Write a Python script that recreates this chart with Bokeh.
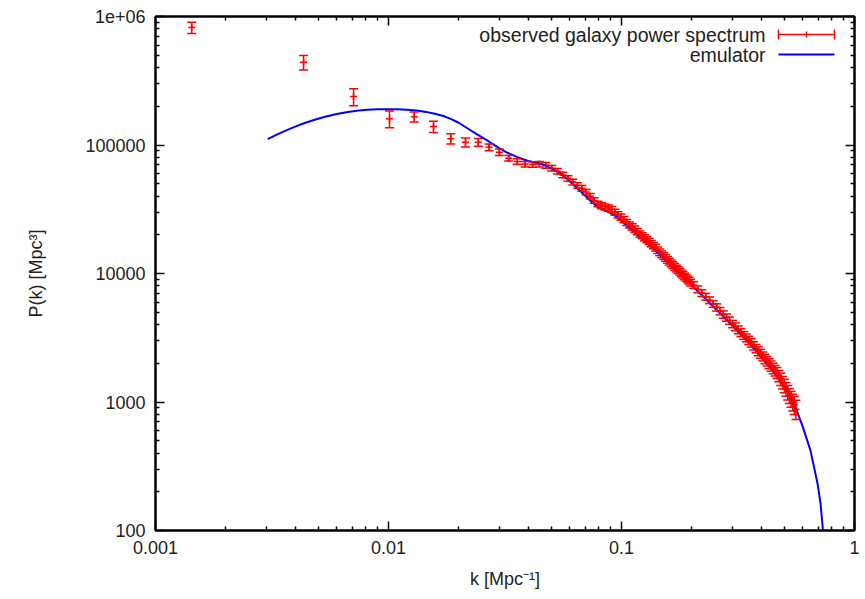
from bokeh.plotting import figure
from bokeh.models import (ColumnDataSource, Whisker, TeeHead, FixedTicker,
                          CustomJSTickFormatter, LogAxis, Label, BoxAnnotation)
from bokeh.embed import file_html
from bokeh.resources import INLINE

# ---------------- data ----------------
k_obs = [0.00143, 0.00432, 0.00708, 0.0101, 0.0129, 0.0156, 0.0185, 0.0214,
         0.0243, 0.0270, 0.0299, 0.0328, 0.0357, 0.0386, 0.0415, 0.0444,
         # 0.047 - 0.08
         0.0473, 0.0502, 0.0531, 0.0560, 0.0589, 0.0618, 0.0647, 0.0676,
         0.0705, 0.0734, 0.0763, 0.0792,
         # 0.08 - 0.2
         0.0821, 0.0850, 0.0879, 0.0908, 0.0937, 0.0966, 0.0995, 0.1024,
         0.1053, 0.1082, 0.1111, 0.1140, 0.1169, 0.1198, 0.1227, 0.1256,
         0.1285, 0.1314, 0.1343, 0.1372, 0.1401, 0.1430, 0.1459, 0.1488,
         0.1517, 0.1546, 0.1575, 0.1604, 0.1633, 0.1662, 0.1691, 0.1720,
         0.1749, 0.1778, 0.1807, 0.1836, 0.1865, 0.1894, 0.1923, 0.1952,
         0.1981,
         # 0.2 - 0.56
         0.2039, 0.2126, 0.2213, 0.2300, 0.2387, 0.2474, 0.2561, 0.2648,
         0.2735, 0.2822, 0.2909, 0.2996, 0.3083, 0.3170, 0.3257, 0.3344,
         0.3431, 0.3518, 0.3605, 0.3692, 0.3779, 0.3866, 0.3953, 0.4040,
         0.4127, 0.4214, 0.4301, 0.4388, 0.4475, 0.4562, 0.4649, 0.4736,
         0.4823, 0.4910, 0.4997, 0.5084, 0.5171, 0.5258, 0.5345, 0.5432,
         0.5519, 0.5606]

P_obs = [820000, 440000, 238000, 160000, 166000, 139000, 112000, 105000,
         105000, 96000, 88000, 79000, 74500, 71000, 70500, 71000,
         69500, 66000, 62500, 58500, 55000, 51500, 48500, 46000,
         43000, 40000, 37000, 34800,
         33800, 33000, 32400, 31500, 30000, 28600, 27500, 26300,
         25000, 23900, 23100, 22200, 21200, 20300, 19700, 19000,
         18400, 17800, 17100, 16500, 15900, 15200, 14650, 14150,
         13700, 13250, 12800, 12400, 12000, 11650, 11300, 10950,
         10650, 10350, 10050, 9800, 9500, 9250, 9000, 8800,
         8500,
         8150, 7550, 7050, 6600, 6200, 5800, 5450, 5100,
         4800, 4550, 4300, 4050, 3850, 3650, 3470, 3300,
         3160, 3020, 2890, 2740, 2610, 2490, 2380, 2270,
         2170, 2080, 1990, 1910, 1830, 1760, 1690, 1600,
         1510, 1420, 1340, 1260, 1190, 1120, 1060, 1000,
         950, 880]

# relative 1-sigma error of each point
P_err_frac = [0.10, 0.13, 0.15, 0.15, 0.09, 0.10, 0.09, 0.08,
              0.07, 0.06, 0.06, 0.05, 0.05, 0.05, 0.05, 0.05,
              0.05, 0.05, 0.05, 0.05, 0.05, 0.05, 0.05, 0.05,
              0.05, 0.05, 0.05, 0.05,
              0.055, 0.055, 0.055, 0.055, 0.055, 0.055, 0.055, 0.055,
              0.055, 0.055, 0.055, 0.055, 0.055, 0.055, 0.055, 0.055,
              0.055, 0.055, 0.055, 0.055, 0.06, 0.06, 0.06, 0.06,
              0.06, 0.06, 0.06, 0.06, 0.06, 0.06, 0.06, 0.06,
              0.06, 0.06, 0.06, 0.06, 0.06, 0.06, 0.06, 0.06,
              0.06,
              0.06, 0.06, 0.06, 0.06, 0.06, 0.06, 0.065, 0.065,
              0.065, 0.065, 0.065, 0.065, 0.07, 0.07, 0.07, 0.07,
              0.07, 0.075, 0.075, 0.075, 0.075, 0.08, 0.08, 0.08,
              0.085, 0.085, 0.09, 0.09, 0.095, 0.095, 0.10, 0.10,
              0.11, 0.11, 0.12, 0.12, 0.13, 0.13, 0.14, 0.15,
              0.16, 0.17]

k_emu = [0.00303, 0.0033, 0.0036, 0.0040, 0.0044, 0.0049, 0.0054, 0.0060,
         0.0066, 0.0073, 0.0081, 0.0090, 0.0099, 0.0109, 0.0120, 0.0132,
         0.0145, 0.0158, 0.0172, 0.0186, 0.0200, 0.0218, 0.0240, 0.0266,
         0.0295, 0.0324, 0.0360, 0.0395, 0.0420, 0.0449, 0.0490, 0.0531,
         0.0575, 0.0622, 0.0687, 0.0740, 0.0789, 0.0830, 0.0871, 0.0920,
         0.0961, 0.1010, 0.106, 0.121, 0.143, 0.167, 0.198, 0.258,
         0.300, 0.358, 0.420, 0.470, 0.496, 0.530, 0.569, 0.600,
         0.647, 0.694, 0.715, 0.729, 0.745]
P_emu = [110900, 119900, 128900, 139600, 148900, 158700, 166700, 174300,
         180000, 184800, 188100, 189900, 190100, 189500, 188000, 185500,
         181000, 175000, 168000, 159000, 149000, 135000, 121000, 108000,
         96000, 87000, 80000, 75500, 73500, 71500, 67000, 62000,
         56000, 49000, 41500, 36500, 33000, 31500, 30300, 28800,
         27300, 25300, 23200, 18900, 14500, 11000, 8250, 5150,
         3900, 2800, 2000, 1550, 1360, 1100, 830, 640,
         420, 232, 162, 110, 60]

x_ticks = [0.001, 0.01, 0.1, 1]
y_ticks = [100, 1000, 10000, 100000, 1000000]
series_names = ["observed galaxy power spectrum", "emulator"]
x_title = "k [Mpc\u207b\u00b9]"
y_title = "P(k) [Mpc\u00b3]"

RED = "#ff0000"
BLUE = "#0000ff"
FONT = "Liberation Sans"
TXT = "#222222"

lo = [P * (1 - e) for P, e in zip(P_obs, P_err_frac)]
hi = [P * (1 + e) for P, e in zip(P_obs, P_err_frac)]
src = ColumnDataSource(dict(k=k_obs, P=P_obs, lo=lo, hi=hi))

p = figure(width=865, height=599, x_axis_type="log", y_axis_type="log",
           x_range=(0.001, 1), y_range=(100, 1e6),
           output_backend="svg", toolbar_location=None,
           min_border_left=155, min_border_right=11,
           min_border_top=16, min_border_bottom=69)
p.grid.visible = False
p.outline_line_color = "black"
p.outline_line_width = 2
p.background_fill_color = "white"
p.border_fill_color = "white"

# error bars
wh = Whisker(base="k", upper="hi", lower="lo", source=src, dimension="height",
             line_color=RED, line_width=1.5,
             upper_head=TeeHead(size=9, line_color=RED, line_width=1.5),
             lower_head=TeeHead(size=9, line_color=RED, line_width=1.5),
             level="glyph")
p.add_layout(wh)
p.scatter("k", "P", source=src, marker="cross", size=7,
          line_color=RED, line_width=1.5)

# emulator
p.line(k_emu, P_emu, line_color=BLUE, line_width=2)

# ---------------- axes ----------------
minor_x = [m * 10.0 ** e for e in (-3, -2, -1) for m in range(2, 10)]
minor_y = [m * 10 ** e for e in (2, 3, 4, 5) for m in range(2, 10)]
xt = FixedTicker(ticks=x_ticks, minor_ticks=minor_x)
yt = FixedTicker(ticks=y_ticks, minor_ticks=minor_y)

xfmt = CustomJSTickFormatter(code="return String(tick);")
yfmt = CustomJSTickFormatter(
    code="return tick >= 1e6 ? tick.toExponential(0).replace('e+', 'e+0') : String(Math.round(tick));")

def style(ax):
    ax.axis_line_color = "black"
    ax.axis_line_width = 2
    ax.major_tick_line_color = "black"
    ax.minor_tick_line_color = "black"
    ax.major_tick_line_width = 1.5
    ax.minor_tick_line_width = 1.5
    ax.major_tick_in = 9
    ax.major_tick_out = 0
    ax.minor_tick_in = 4
    ax.minor_tick_out = 0

xa = p.xaxis[0]
xa.ticker = xt
xa.formatter = xfmt
ya = p.yaxis[0]
ya.ticker = yt
ya.formatter = yfmt
for ax in (xa, ya):
    style(ax)
    ax.major_label_text_font = FONT
    ax.major_label_text_font_size = "18px"
    ax.major_label_text_color = TXT
    ax.axis_label_text_font = FONT
    ax.axis_label_text_font_size = "18px"
    ax.axis_label_text_font_style = "normal"
    ax.axis_label_text_color = TXT
    ax.major_label_standoff = 10
xa.axis_label = x_title
xa.axis_label_standoff = 12
ya.axis_label = y_title
ya.axis_label_standoff = 36

blank = CustomJSTickFormatter(code="return '';")
top = LogAxis(ticker=FixedTicker(ticks=x_ticks, minor_ticks=minor_x), formatter=blank)
right = LogAxis(ticker=FixedTicker(ticks=y_ticks, minor_ticks=minor_y), formatter=blank)
for ax in (top, right):
    style(ax)
    ax.major_label_text_font_size = "0px"
    ax.major_label_standoff = 0
p.add_layout(top, "above")
p.add_layout(right, "right")

# ---------------- legend (gnuplot style: text right, sample on the right) ----
rows_y = [496, 476]          # screen units, relative to the plot frame
text_right = 610
s_left, s_right = 623, 679
for name, yy in zip(series_names, rows_y):
    p.add_layout(Label(x=text_right, y=yy, x_units="screen", y_units="screen",
                       text=name, text_align="right", text_baseline="middle",
                       text_font=FONT, text_font_size="19.5px", text_color=TXT))

def bar(l, r, b, t, c):
    p.add_layout(BoxAnnotation(left=l, right=r, bottom=b, top=t,
                               left_units="screen", right_units="screen",
                               bottom_units="screen", top_units="screen",
                               fill_color=c, fill_alpha=1.0, line_color=None,
                               level="overlay"))

y0 = rows_y[0]
bar(s_left, s_right, y0 - 0.75, y0 + 0.75, RED)
bar(s_left - 0.75, s_left + 0.75, y0 - 5, y0 + 5, RED)
bar(s_right - 0.75, s_right + 0.75, y0 - 5, y0 + 5, RED)
bar((s_left + s_right) / 2 - 0.75, (s_left + s_right) / 2 + 0.75, y0 - 3, y0 + 3, RED)
y1 = rows_y[1]
bar(s_left, s_right, y1 - 1, y1 + 1, BLUE)

open("out.html", "w").write(file_html(p, INLINE))
